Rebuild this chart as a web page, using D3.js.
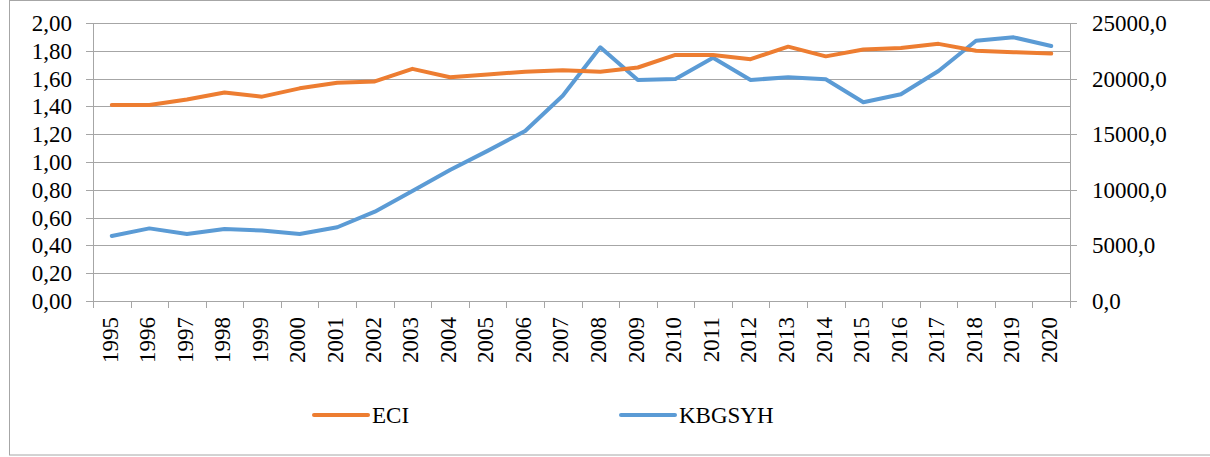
<!DOCTYPE html>
<html>
<head>
<meta charset="utf-8">
<script src="https://cdn.jsdelivr.net/npm/d3@7"></script>
<style>
  body { margin: 0; background: #fff; }
</style>
</head>
<body>
<div id="chart"></div>
<script>
const years = ["1995","1996","1997","1998","1999","2000","2001","2002","2003","2004","2005","2006","2007",
               "2008","2009","2010","2011","2012","2013","2014","2015","2016","2017","2018","2019","2020"];
const eci = [1.41,1.41,1.45,1.50,1.47,1.53,1.57,1.58,1.67,1.61,1.63,1.65,1.66,
             1.65,1.68,1.77,1.77,1.74,1.83,1.76,1.81,1.82,1.85,1.80,1.79,1.78];
const kbgsyh = [5850,6530,6030,6480,6330,6030,6630,8030,9900,11780,13500,15290,18460,
                22820,19880,19970,21880,19880,20120,19940,17870,18590,20680,23410,23710,22930];
const leftTicks = [0,0.2,0.4,0.6,0.8,1.0,1.2,1.4,1.6,1.8,2.0];
const rightTicks = [0,5000,10000,15000,20000,25000];
const seriesNames = ["ECI", "KBGSYH"];

const width = 1210, height = 457;
const plot = { left: 93, right: 1070, top: 23, bottom: 301 };
const colors = { ECI: "#ED7D31", KBGSYH: "#5B9BD5" };
const gridColor = "#A6A6A6";
const FONT = "Times New Roman, Times, Liberation Serif, DejaVu Serif, Noto Serif, serif";

const svg = d3.select("#chart").append("svg")
    .attr("width", width)
    .attr("height", height)
    .style("font-family", FONT);

// outer frame
svg.append("rect")
    .attr("x", 9.5).attr("y", 0.5)
    .attr("width", 1210).attr("height", 454.5)
    .attr("fill", "none")
    .attr("stroke", "#A6A6A6");

const x = d3.scaleBand().domain(years).range([plot.left, plot.right]);
const yL = d3.scaleLinear().domain([0, 2]).range([plot.bottom, plot.top]);
const yR = d3.scaleLinear().domain([0, 25000]).range([plot.bottom, plot.top]);

const comma = f => v => d3.format(f)(v).replace(".", ",");

// gridlines
svg.append("g").selectAll("line")
    .data(leftTicks)
    .enter().append("line")
    .attr("x1", plot.left).attr("x2", plot.right)
    .attr("y1", d => Math.round(yL(d)) + 0.5)
    .attr("y2", d => Math.round(yL(d)) + 0.5)
    .attr("stroke", gridColor);

// left axis
const gl = svg.append("g");
gl.append("line")
    .attr("x1", plot.left + 0.5).attr("x2", plot.left + 0.5)
    .attr("y1", plot.top).attr("y2", plot.bottom + 7)
    .attr("stroke", gridColor);
gl.selectAll(".tk").data(leftTicks).enter().append("line")
    .attr("x1", plot.left - 7).attr("x2", plot.left)
    .attr("y1", d => Math.round(yL(d)) + 0.5)
    .attr("y2", d => Math.round(yL(d)) + 0.5)
    .attr("stroke", gridColor);
gl.selectAll("text").data(leftTicks).enter().append("text")
    .attr("x", 72)
    .attr("y", d => yL(d))
    .attr("dy", "0.35em")
    .attr("text-anchor", "end")
    .style("font-size", "23px")
    .text(comma(".2f"));

// right axis
const gr = svg.append("g");
gr.append("line")
    .attr("x1", plot.right + 0.5).attr("x2", plot.right + 0.5)
    .attr("y1", plot.top).attr("y2", plot.bottom + 7)
    .attr("stroke", gridColor);
gr.selectAll(".tk").data(rightTicks).enter().append("line")
    .attr("x1", plot.right).attr("x2", plot.right + 7)
    .attr("y1", d => Math.round(yR(d)) + 0.5)
    .attr("y2", d => Math.round(yR(d)) + 0.5)
    .attr("stroke", gridColor);
gr.selectAll("text").data(rightTicks).enter().append("text")
    .attr("x", 1092)
    .attr("y", d => yR(d))
    .attr("dy", "0.35em")
    .style("font-size", "23px")
    .text(comma(".1f"));

// bottom axis: tick marks at band edges, rotated labels
const gx = svg.append("g");
gx.selectAll("line").data(years.concat(["end"])).enter().append("line")
    .attr("x1", (d, i) => Math.round(plot.left + i * x.step()) + 0.5)
    .attr("x2", (d, i) => Math.round(plot.left + i * x.step()) + 0.5)
    .attr("y1", plot.bottom).attr("y2", plot.bottom + 7)
    .attr("stroke", gridColor);
gx.selectAll("text").data(years).enter().append("text")
    .attr("transform", d => `translate(${x(d) + x.bandwidth() / 2},317) rotate(-90)`)
    .attr("dy", "0.25em")
    .attr("text-anchor", "end")
    .style("font-size", "23px")
    .text(d => d);

// series
const cx = (d, i) => x(years[i]) + x.bandwidth() / 2;
const lineL = d3.line().x(cx).y(d => yL(d));
const lineR = d3.line().x(cx).y(d => yR(d));

svg.append("path")
    .datum(kbgsyh)
    .attr("d", lineR)
    .attr("fill", "none")
    .attr("stroke", colors.KBGSYH)
    .attr("stroke-width", 4)
    .attr("stroke-linejoin", "round")
    .attr("stroke-linecap", "round");

svg.append("path")
    .datum(eci)
    .attr("d", lineL)
    .attr("fill", "none")
    .attr("stroke", colors.ECI)
    .attr("stroke-width", 4)
    .attr("stroke-linejoin", "round")
    .attr("stroke-linecap", "round");

// legend
const legendX = [314, 621];
const lg = svg.append("g").selectAll("g")
    .data(seriesNames)
    .enter().append("g")
    .attr("transform", (d, i) => `translate(${legendX[i]},415)`);
lg.append("line")
    .attr("x1", 0).attr("x2", 54)
    .attr("stroke", d => colors[d])
    .attr("stroke-width", 4)
    .attr("stroke-linecap", "round");
lg.append("text")
    .attr("x", 58)
    .attr("y", 8)
    .style("font-size", "23px")
    .text(d => d);
</script>
</body>
</html>
